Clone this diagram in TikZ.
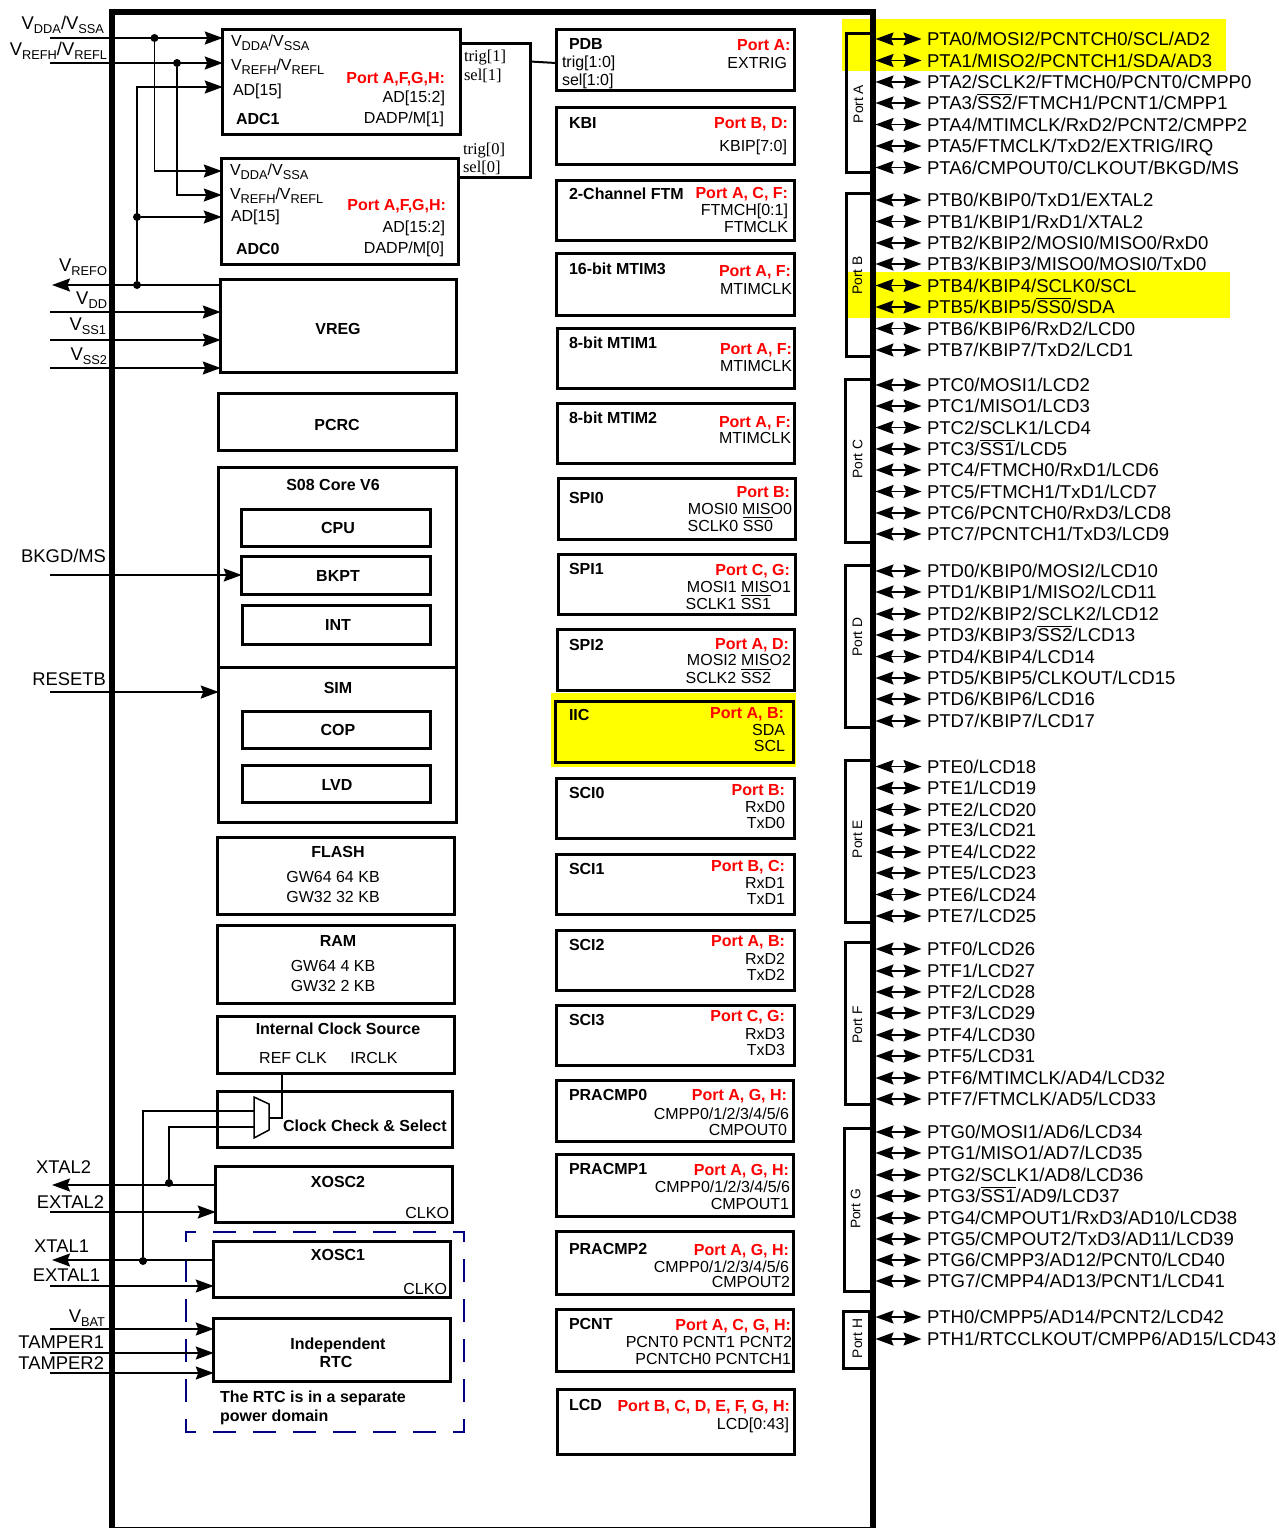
\documentclass[tikz,border=0pt]{standalone}
\usepackage{fontspec}
\setmainfont{Liberation Sans}
\newfontfamily\tmfont{Liberation Serif}
\usetikzlibrary{arrows.meta}
\definecolor{hlyel}{RGB}{255,255,0}
\definecolor{hlred}{RGB}{255,0,0}
\definecolor{navyd}{RGB}{0,0,128}
\newcommand\fa{\fontsize{18.4}{20}\selectfont}
\newcommand\fp{\fontsize{18.55}{20}\selectfont}
\newcommand\fb{\fontsize{16}{18}\selectfont}
\newcommand\Sb[1]{\raisebox{-4pt}{\fontsize{12.8}{13}\selectfont #1}}
\newcommand\VV[1]{V\Sb{#1}}
\newcommand\ovl[1]{\leavevmode\vbox{\hrule height 0.8pt \kern 1.6pt \hbox{#1}}}
\newcounter{tn}
\tikzset{
  lab/.style={inner sep=0pt,outer sep=0pt,font=\fb},
  big/.style={font=\fa},
  bld/.style={font=\fb\bfseries},
  redl/.style={font=\fb\bfseries,text=hlred},
  serf/.style={font=\fontsize{16.5}{18}\selectfont\tmfont},
  blk/.style={draw,line width=3pt,inner sep=0pt,outer sep=0pt,font=\fb\bfseries,align=center},
  sblk/.style={line width=3pt},
  wire/.style={line width=1.7pt},
  sig/.style={line width=1.7pt,-{Stealth[length=18pt,width=13pt,inset=2.5pt]}},
  dbl/.style={line width=1.7pt,{Stealth[length=18pt,width=13pt,inset=2.5pt]}-{Stealth[length=18pt,width=13pt,inset=2.5pt]}},
  dotn/.style={circle,fill=black,inner sep=0pt,minimum size=8pt},
  portbx/.style={draw,line width=3pt,inner sep=0pt,outer sep=0pt},
  plab/.style={inner sep=0pt,font=\fontsize{13.8}{15}\selectfont,rotate=90},
  domline/.style={draw=navyd,line width=1.6pt,line cap=rect,dash pattern=on 21.4pt off 18.6pt,dash phase=12pt},
}
% optional style, name, x1, y1, x2, y2, text
\newcommand\Blk[7][]{\node[blk,#1,minimum width={(#5-#3-1.5)*1pt},minimum height={(#6-#4-1)*1pt}] (#2) at ({(#3+#5)/2},{(#4+#6)/2}) {#7};}
\newcommand\TL[4][]{\stepcounter{tn}\node[lab,#1,anchor=base west,name=t\arabic{tn}] at (#2,#3+6) {#4};}
\newcommand\TR[4][]{\stepcounter{tn}\node[lab,#1,anchor=base east,name=t\arabic{tn}] at (#2,#3+6) {#4};}
\newcommand\TC[4][]{\stepcounter{tn}\node[lab,#1,anchor=base,name=t\arabic{tn}] at (#2,#3+6) {#4};}
% name, y, text
\newcommand\Pin[3]{\coordinate (pa#1) at (875.5,#2);\coordinate (pb#1) at (921.5,#2);
  \node[lab,font=\fp,anchor=base west,name=pl#1] at (927,#2+6.6) {#3};
  \draw[dbl] (pa#1) -- (pb#1);}
% name, x, y1, y2, label x, label y, text
\newcommand\Port[7]{\node[portbx,minimum width={(873-#2)*1pt},minimum height={(#4-#3-0.5)*1pt}] (#1) at ({(#2+873)/2},{(#3+#4)/2}) {};
  \node[plab,name=#1lab] at (#5,#6) {#7};}
% name, y for left input signals
\newcommand\Inp[3]{\coordinate (#1) at (50,#2);\draw[sig] (#1) -- (#1 -| #3.west);}
\begin{document}
\begin{tikzpicture}[x=1pt,y=-1pt]
\useasboundingbox (0,0) rectangle (1278,1528);
% yellow highlights
\fill[hlyel] (842,19) rectangle (1226,71);
\fill[hlyel] (847,272) rectangle (1230,318);
\fill[hlyel] (551,693) rectangle (796,767);
% chip frame
\node[draw,line width=5.5pt,inner sep=0pt,outer sep=0pt,minimum width=761pt,minimum height=1518pt] (chip) at (492.5,771) {};
% dashed RTC power domain
\node[inner sep=0pt,outer sep=0pt,minimum width=278pt,minimum height=200pt] (rtcdom) at (325,1332) {};
\draw[domline] (rtcdom.north west) -- (rtcdom.north east);
\draw[domline] (rtcdom.south west) -- (rtcdom.south east);
\draw[domline] (rtcdom.north west) -- (rtcdom.south west);
\draw[domline] (rtcdom.north east) -- (rtcdom.south east);
% port boxes
\Port{porta}{846}{33}{173}{858.5}{104}{Port A}
\Port{portb}{846}{193}{357}{857.5}{275.5}{Port B}
\Port{portc}{845}{379}{543}{857.5}{459}{Port C}
\Port{portd}{845}{565}{728}{857.5}{637}{Port D}
\Port{porte}{845}{760}{923}{857.5}{839}{Port E}
\Port{portf}{845}{942}{1105}{857.5}{1025}{Port F}
\Port{portg}{844}{1128}{1292}{855.5}{1209}{Port G}
\node[portbx,minimum width=26pt,minimum height=57pt] (porth) at (856,1339.5) {};
\node[plab,name=porthlab] at (857.5,1338.5) {Port H};
% pins
\Pin{a0}{39}{PTA0/MOSI2/PCNTCH0/SCL/AD2}
\Pin{a1}{60.5}{PTA1/MISO2/PCNTCH1/SDA/AD3}
\Pin{a2}{82}{PTA2/SCLK2/FTMCH0/PCNT0/CMPP0}
\Pin{a3}{103}{PTA3/\ovl{SS2}/FTMCH1/PCNT1/CMPP1}
\Pin{a4}{124.5}{PTA4/MTIMCLK/RxD2/PCNT2/CMPP2}
\Pin{a5}{146}{PTA5/FTMCLK/TxD2/EXTRIG/IRQ}
\Pin{a6}{167.5}{PTA6/CMPOUT0/CLKOUT/BKGD/MS}
\Pin{b0}{200}{PTB0/KBIP0/TxD1/EXTAL2}
\Pin{b1}{221.5}{PTB1/KBIP1/RxD1/XTAL2}
\Pin{b2}{243}{PTB2/KBIP2/MOSI0/MISO0/RxD0}
\Pin{b3}{264}{PTB3/KBIP3/MISO0/MOSI0/TxD0}
\Pin{b4}{285.5}{PTB4/KBIP4/SCLK0/SCL}
\Pin{b5}{307}{PTB5/KBIP5/\ovl{SS0}/SDA}
\Pin{b6}{328.5}{PTB6/KBIP6/RxD2/LCD0}
\Pin{b7}{350}{PTB7/KBIP7/TxD2/LCD1}
\Pin{c0}{385}{PTC0/MOSI1/LCD2}
\Pin{c1}{406}{PTC1/MISO1/LCD3}
\Pin{c2}{427.5}{PTC2/SCLK1/LCD4}
\Pin{c3}{449}{PTC3/\ovl{SS1}/LCD5}
\Pin{c4}{470}{PTC4/FTMCH0/RxD1/LCD6}
\Pin{c5}{491.5}{PTC5/FTMCH1/TxD1/LCD7}
\Pin{c6}{513}{PTC6/PCNTCH0/RxD3/LCD8}
\Pin{c7}{534}{PTC7/PCNTCH1/TxD3/LCD9}
\Pin{d0}{571}{PTD0/KBIP0/MOSI2/LCD10}
\Pin{d1}{592}{PTD1/KBIP1/MISO2/LCD11}
\Pin{d2}{614}{PTD2/KBIP2/SCLK2/LCD12}
\Pin{d3}{635}{PTD3/KBIP3/\ovl{SS2}/LCD13}
\Pin{d4}{656.5}{PTD4/KBIP4/LCD14}
\Pin{d5}{678}{PTD5/KBIP5/CLKOUT/LCD15}
\Pin{d6}{699}{PTD6/KBIP6/LCD16}
\Pin{d7}{721}{PTD7/KBIP7/LCD17}
\Pin{e0}{766.5}{PTE0/LCD18}
\Pin{e1}{788}{PTE1/LCD19}
\Pin{e2}{809.5}{PTE2/LCD20}
\Pin{e3}{830}{PTE3/LCD21}
\Pin{e4}{852}{PTE4/LCD22}
\Pin{e5}{873}{PTE5/LCD23}
\Pin{e6}{894.5}{PTE6/LCD24}
\Pin{e7}{916}{PTE7/LCD25}
\Pin{f0}{949}{PTF0/LCD26}
\Pin{f1}{971}{PTF1/LCD27}
\Pin{f2}{992}{PTF2/LCD28}
\Pin{f3}{1013}{PTF3/LCD29}
\Pin{f4}{1035}{PTF4/LCD30}
\Pin{f5}{1056}{PTF5/LCD31}
\Pin{f6}{1078}{PTF6/MTIMCLK/AD4/LCD32}
\Pin{f7}{1099}{PTF7/FTMCLK/AD5/LCD33}
\Pin{g0}{1132}{PTG0/MOSI1/AD6/LCD34}
\Pin{g1}{1153}{PTG1/MISO1/AD7/LCD35}
\Pin{g2}{1175}{PTG2/SCLK1/AD8/LCD36}
\Pin{g3}{1196}{PTG3/\ovl{SS1}/AD9/LCD37}
\Pin{g4}{1218}{PTG4/CMPOUT1/RxD3/AD10/LCD38}
\Pin{g5}{1239}{PTG5/CMPOUT2/TxD3/AD11/LCD39}
\Pin{g6}{1260}{PTG6/CMPP3/AD12/PCNT0/LCD40}
\Pin{g7}{1281}{PTG7/CMPP4/AD13/PCNT1/LCD41}
\Pin{h0}{1317}{PTH0/CMPP5/AD14/PCNT2/LCD42}
\Pin{h1}{1339}{PTH1/RTCCLKOUT/CMPP6/AD15/LCD43}
% left column blocks
\Blk{adc1}{222}{29}{461}{135}{}
\Blk{adc0}{221}{158}{459}{265}{}
\Blk{vreg}{220}{279}{457}{373}{}
\Blk{pcrc}{218}{393}{457}{451}{}
\Blk{core}{218}{467}{457}{823}{}
\coordinate (divl) at (218,667);
\coordinate (divr) at (457,667);
\draw[sblk] (divl) -- (divr);
\Blk{cpu}{241}{509}{431}{547}{}
\Blk{bkpt}{241}{556}{431}{595}{}
\Blk{int}{242}{605}{431}{645}{}
\Blk{cop}{242}{711}{431}{749}{}
\Blk{lvd}{242}{765}{431}{803}{}
\Blk{flash}{217}{837}{455}{915}{}
\Blk{ram}{217}{925}{455}{1004}{}
\Blk{ics}{217}{1016}{455}{1074}{}
\Blk{ccs}{217}{1091}{453}{1148}{}
\Blk{xosc2}{215}{1166}{453}{1223}{}
\Blk{xosc1}{213}{1241}{451}{1298}{}
\Blk{rtc}{213}{1318}{451}{1382}{}
% middle column blocks
\Blk{pdb}{556}{29}{795}{91}{}
\Blk{kbi}{556}{107}{795}{165}{}
\Blk{ftm}{556}{180}{795}{241}{}
\Blk{mtim3}{556}{253}{795}{316}{}
\Blk{mtim1}{557}{328}{795}{389}{}
\Blk{mtim2}{557}{403}{795}{464}{}
\Blk{spi0}{558}{478}{796}{540}{}
\Blk{spi1}{558}{554}{796}{615}{}
\Blk{spi2}{557}{629}{795}{691}{}
\Blk{iic}{555}{701}{794}{763}{}
\Blk{sci0}{556}{778}{795}{839}{}
\Blk{sci1}{556}{854}{795}{915}{}
\Blk{sci2}{556}{930}{795}{991}{}
\Blk{sci3}{556}{1005}{795}{1066}{}
\Blk{pra0}{556}{1080}{794}{1142}{}
\Blk{pra1}{556}{1154}{794}{1217}{}
\Blk{pra2}{556}{1231}{794}{1295}{}
\Blk{pcnt}{556}{1309}{794}{1372}{}
\Blk{lcd}{557}{1389}{795}{1455}{}
% ADC1 text
\TL{231}{40.5}{\VV{DDA}/\VV{SSA}}
\TL{231}{64.5}{\VV{REFH}/\VV{REFL}}
\TL{233}{89}{AD[15]}
\TL[bld]{236}{118}{ADC1}
\TR[redl]{445}{78}{Port A,F,G,H:}
\TR{445}{96}{AD[15:2]}
\TR{444}{117}{DADP/M[1]}
% ADC0 text
\TL{230}{169.5}{\VV{DDA}/\VV{SSA}}
\TL{230}{193}{\VV{REFH}/\VV{REFL}}
\TL{231}{215}{AD[15]}
\TL[bld]{236}{248}{ADC0}
\TR[redl]{446}{204}{Port A,F,G,H:}
\TR{445}{226}{AD[15:2]}
\TR{444}{247}{DADP/M[0]}
% trig labels
\TL[serf]{464}{56}{trig[1]}
\TL[serf]{464}{75}{sel[1]}
\TL[serf]{463}{148}{trig[0]}
\TL[serf]{463}{166}{sel[0]}
% left column text
\TC[bld]{338}{328}{VREG}
\TC[bld]{337}{424}{PCRC}
\TC[bld]{333}{484.5}{S08 Core V6}
\TC[bld]{338}{527}{CPU}
\TC[bld]{338}{575}{BKPT}
\TC[bld]{338}{624}{INT}
\TC[bld]{338}{687}{SIM}
\TC[bld]{338}{729}{COP}
\TC[bld]{337}{784}{LVD}
\TC[bld]{338}{851}{FLASH}
\TC{333}{876}{GW64 64 KB}
\TC{333}{896}{GW32 32 KB}
\TC[bld]{338}{940}{RAM}
\TC{333}{965}{GW64 4 KB}
\TC{333}{985}{GW32 2 KB}
\TC[bld]{338}{1028}{Internal Clock Source}
\TC{293}{1057}{REF CLK}
\TC{374}{1057}{IRCLK}
\TL[bld]{283}{1125}{Clock Check \& Select}
\TC[bld]{338}{1181}{XOSC2}
\TR{449}{1212}{CLKO}
\TC[bld]{338}{1254}{XOSC1}
\TR{447}{1288}{CLKO}
\TC[bld]{338}{1343.5}{Independent}
\TC[bld]{336}{1361}{RTC}
\TL[bld]{220}{1396.5}{The RTC is in a separate}
\TL[bld]{220}{1415}{power domain}
% middle column text
\TL[bld]{569}{43}{PDB}
\TL{562}{61}{trig[1:0]}
\TL{562}{79}{sel[1:0]}
\TR[redl]{790.5}{45}{Port A:}
\TR{787}{62}{EXTRIG}
\TL[bld]{569}{122}{KBI}
\TR[redl]{788}{122}{Port B, D:}
\TR{787}{145}{KBIP[7:0]}
\TL[bld]{569}{193}{2-Channel FTM}
\TR[redl]{788}{192}{Port A, C, F:}
\TR{788}{209}{FTMCH[0:1]}
\TR{788}{226}{FTMCLK}
\TL[bld]{569}{268}{16-bit MTIM3}
\TR[redl]{791}{270}{Port A, F:}
\TR{792}{288}{MTIMCLK}
\TL[bld]{569}{342}{8-bit MTIM1}
\TR[redl]{792}{348}{Port A, F:}
\TR{792}{365}{MTIMCLK}
\TL[bld]{569}{417}{8-bit MTIM2}
\TR[redl]{791}{421}{Port A, F:}
\TR{791}{437}{MTIMCLK}
\TL[bld]{569}{497}{SPI0}
\TR[redl]{790}{491}{Port B:}
\TR{792}{508}{MOSI0 MISO0}
\TR{773}{525}{SCLK0 \ovl{SS0}}
\TL[bld]{569}{568}{SPI1}
\TR[redl]{790}{569}{Port C, G:}
\TR{791}{586}{MOSI1 MISO1}
\TR{771}{603}{SCLK1 \ovl{SS1}}
\TL[bld]{569}{644}{SPI2}
\TR[redl]{789}{643}{Port A, D:}
\TR{791}{659}{MOSI2 MISO2}
\TR{771}{677}{SCLK2 \ovl{SS2}}
\TL[bld]{569}{714}{IIC}
\TR[redl]{784}{712}{Port A, B:}
\TR{785}{729}{SDA}
\TR{785}{745}{SCL}
\TL[bld]{569}{792}{SCI0}
\TR[redl]{785}{789}{Port B:}
\TR{785}{806}{RxD0}
\TR{785}{822}{TxD0}
\TL[bld]{569}{868}{SCI1}
\TR[redl]{785}{865}{Port B, C:}
\TR{785}{882}{RxD1}
\TR{785}{898}{TxD1}
\TL[bld]{569}{944}{SCI2}
\TR[redl]{785}{940}{Port A, B:}
\TR{785}{958}{RxD2}
\TR{785}{974}{TxD2}
\TL[bld]{569}{1019}{SCI3}
\TR[redl]{785}{1015}{Port C, G:}
\TR{785}{1033}{RxD3}
\TR{785}{1049}{TxD3}
\TL[bld]{569}{1094}{PRACMP0}
\TR[redl]{787}{1094}{Port A, G, H:}
\TR{789}{1113}{CMPP0/1/2/3/4/5/6}
\TR{787}{1129}{CMPOUT0}
\TL[bld]{569}{1168}{PRACMP1}
\TR[redl]{789}{1169}{Port A, G, H:}
\TR{790}{1186}{CMPP0/1/2/3/4/5/6}
\TR{789}{1203}{CMPOUT1}
\TL[bld]{569}{1248}{PRACMP2}
\TR[redl]{789}{1249}{Port A, G, H:}
\TR{789}{1266}{CMPP0/1/2/3/4/5/6}
\TR{790}{1281}{CMPOUT2}
\TL[bld]{569}{1323}{PCNT}
\TR[redl]{791}{1324}{Port A, C, G, H:}
\TR{792}{1341}{PCNT0 PCNT1 PCNT2}
\TR{791}{1358}{PCNTCH0 PCNTCH1}
\TL[bld]{569}{1404}{LCD}
\TR[redl]{790}{1405}{Port B, C, D, E, F, G, H:}
\TR{789}{1423}{LCD[0:43]}
% left side external labels
\TR[big]{104}{24}{\VV{DDA}/\VV{SSA}}
\TR[big]{107}{50}{\VV{REFH}/\VV{REFL}}
\TR[big]{107}{265.5}{\VV{REFO}}
\TR[big]{107}{298.5}{\VV{DD}}
\TR[big]{106}{324.5}{\VV{SS1}}
\TR[big]{107}{354}{\VV{SS2}}
\TR[big]{106}{556}{BKGD/MS}
\TR[big]{106}{679}{RESETB}
\TR[big]{91}{1167}{XTAL2}
\TR[big]{104}{1202}{EXTAL2}
\TR[big]{89}{1246}{XTAL1}
\TR[big]{100}{1275.5}{EXTAL1}
\TR[big]{105}{1316.5}{\VV{BAT}}
\TR[big]{104}{1342}{TAMPER1}
\TR[big]{104}{1363.5}{TAMPER2}
% analog supply connectors
\Inp{vdda}{38}{adc1}
\Inp{vrefh}{63}{adc1}
\node[dotn] (d1) at (154.5,38) {};
\node[dotn] (d2) at (177,63) {};
\draw[sig] (d1) |- (adc0.west |- 0,171);
\draw[sig] (d2) |- (adc0.west |- 0,195);
\coordinate (vrefo) at (52,285);
\node[dotn] (d3) at (137,285) {};
\node[dotn] (d4) at (137,217) {};
\draw[sig] (vreg.west |- vrefo) -- (vrefo);
\draw[sig] (d3) |- (adc1.west |- 0,87);
\draw[sig] (d4) -- (d4 -| adc0.west);
\Inp{vdd}{312}{vreg}
\Inp{vss1}{340}{vreg}
\Inp{vss2}{368}{vreg}
\Inp{bkgd}{575}{bkpt}
\Inp{resetb}{692}{core}
% trigger bus
\coordinate (bus1) at (530,44);
\coordinate (bus0) at (530,177);
\coordinate (busm) at (530,61.5);
\coordinate (pdbin) at (556,63);
\draw[sblk,line cap=rect] (bus1 -| adc1.east) -- (bus1) -- (bus0) -- (bus0 -| adc0.east);
\draw[line width=2pt] (busm) -- (pdbin);
% clock mux
\coordinate (m1) at (254,1097);
\coordinate (m2) at (269,1104);
\coordinate (m3) at (269,1130);
\coordinate (m4) at (254,1138);
\draw[line width=1.5pt] (m1) -- (m2) -- (m3) -- (m4) -- cycle;
\coordinate (mout) at (269,1118);
\coordinate (iclkin) at (282,1074);
\draw[wire] (mout) -| (iclkin);
\coordinate (mina) at (254,1111);
\coordinate (minb) at (254,1127);
\node[dotn] (d5) at (169,1183) {};
\node[dotn] (d6) at (143,1261) {};
\draw[wire] (d6) |- (mina);
\draw[wire] (d5) |- (minb);
% oscillator and RTC pins
\coordinate (xtal2) at (52,1185);
\coordinate (xtal1) at (52,1260);
\draw[sig] (xosc2.west |- xtal2) -- (xtal2);
\draw[sig] (xosc1.west |- xtal1) -- (xtal1);
\Inp{extal2}{1212}{xosc2}
\Inp{extal1}{1286}{xosc1}
\Inp{vbat}{1329}{rtc}
\Inp{tamper1}{1353}{rtc}
\Inp{tamper2}{1373}{rtc}
\end{tikzpicture}
\end{document}
